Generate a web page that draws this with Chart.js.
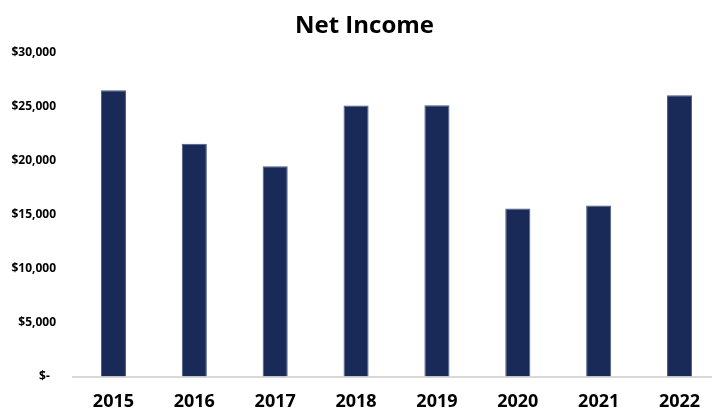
<!DOCTYPE html>
<html>
<head>
<meta charset="utf-8">
<script src="https://cdn.jsdelivr.net/npm/chart.js@4/dist/chart.umd.min.js"></script>
<style>
  html, body { margin: 0; padding: 0; background: #fff; overflow: hidden; }
  #wrap { width: 720px; height: 411px; }
</style>
</head>
<body>
<div id="wrap"><canvas id="myChart"></canvas></div>
<script>
var years = ['2015', '2016', '2017', '2018', '2019', '2020', '2021', '2022'];
var netIncome = [26530, 21560, 19490, 25110, 25140, 15570, 15850, 26060];
var yTicks = [0, 5000, 10000, 15000, 20000, 25000, 30000];

// the original is cropped on the right, so nudge the title over a little
var titleShift = {
    id: 'titleShift',
    afterLayout: function(chart) {
        if (chart.titleBlock) chart.titleBlock.left += 9;
    }
};

var ctx = document.getElementById('myChart').getContext('2d');

var chart = new Chart(ctx, {
    type: 'bar',
    data: {
        labels: years,
        datasets: [{
            label: 'Net Income',
            data: netIncome,
            backgroundColor: '#1a2a58',
            borderColor: '#4a5a86',
            borderWidth: { left: 1, right: 1, top: 1, bottom: 0 },
            barPercentage: 0.31,
            categoryPercentage: 1
        }]
    },
    options: {
        responsive: true,
        maintainAspectRatio: false,
        animation: false,
        layout: { padding: 0 },
        plugins: {
            legend: { display: false },
            tooltip: { enabled: false },
            title: {
                display: true,
                text: 'Net Income',
                color: '#000',
                font: { family: 'Open Sans', size: 24, weight: 'bold' },
                padding: { top: 12, bottom: 12 }
            }
        },
        scales: {
            x: {
                grid: { display: false, drawTicks: false },
                border: { display: true, color: '#d9d9d9', width: 2 },
                ticks: {
                    color: '#000',
                    padding: 15,
                    font: { family: 'Open Sans', size: 18, weight: 'bold' }
                },
                afterFit: function(scale) { scale.height = 34.5; }
            },
            y: {
                min: 0,
                max: 30000,
                grid: { display: false, drawTicks: false },
                border: { display: false },
                afterBuildTicks: function(scale) {
                    scale.ticks = yTicks.map(function(v) { return { value: v }; });
                },
                ticks: {
                    color: '#000',
                    padding: 17,
                    font: { family: 'Open Sans', size: 12, weight: 'bold' },
                    callback: function(value) {
                        if (value === 0) return '$-  ';
                        return '$' + value.toLocaleString('en-US');
                    }
                },
                afterFit: function(scale) { scale.width = 73; }
            }
        }
    },
    plugins: [titleShift]
});
</script>
</body>
</html>
